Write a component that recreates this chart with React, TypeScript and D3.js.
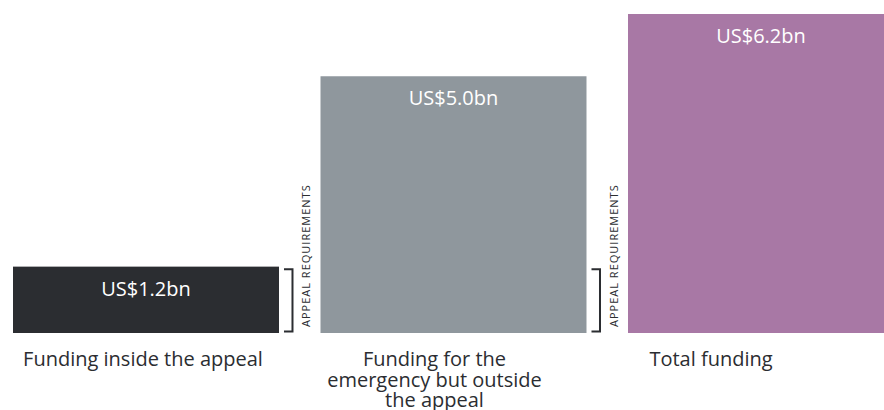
import React from "react";
import * as d3 from "d3";

const categories = ["inside", "outside", "total"];
const categoryLines = [
  ["Funding inside the appeal"],
  ["Funding for the", "emergency but outside", "the appeal"],
  ["Total funding"],
];
const values = [1.29, 4.99, 6.2];
const valueLabels = ["US$1.2bn", "US$5.0bn", "US$6.2bn"];
const barColors = ["#2b2d31", "#8f979d", "#a878a5"];
const appealRequirement = 1.24;
const bracketAfter = ["inside", "outside"];
const bracketLabel = "APPEAL REQUIREMENTS";

// layout
const W = 884;
const H = 410;
const labelDx = [-3, -19, -50];
const FONT = "'Open Sans', sans-serif";
const INK = "#2b2d31";

export default function App() {
  const x = d3
    .scaleBand<string>()
    .domain(categories)
    .range([13, 894])
    .paddingInner(0.135)
    .paddingOuter(0);
  const y = d3.scaleLinear().domain([0, 6.2]).range([333, 14]);
  const bw = x.bandwidth();

  return (
    <svg
      width={W}
      height={H}
      style={{ position: "absolute", left: 0, top: 0, display: "block" }}
      fontFamily={FONT}
    >
      <rect width={W} height={H} fill="#ffffff" />
      {categories.map((c, i) => {
        const x0 = x(c)!;
        return (
          <g key={c}>
            <rect
              x={x0}
              y={y(values[i])}
              width={bw}
              height={y(0) - y(values[i])}
              fill={barColors[i]}
            />
            <text
              x={x0 + bw / 2}
              y={y(values[i]) + 29}
              textAnchor="middle"
              fill="#ffffff"
              fontSize={20}
            >
              {valueLabels[i]}
            </text>
            <text
              x={x0 + bw / 2 + labelDx[i]}
              y={y(0) + 33}
              textAnchor="middle"
              fill={INK}
              fontSize={20}
            >
              {categoryLines[i].map((l, j) => (
                <tspan key={j} x={x0 + bw / 2 + labelDx[i]} dy={j === 0 ? 0 : 20.5}>
                  {l}
                </tspan>
              ))}
            </text>
          </g>
        );
      })}
      {bracketAfter.map((c) => {
        const bx = x(c)! + bw + 13.5;
        const top = y(appealRequirement);
        const bottom = y(0) - 1.5;
        const tx = x(c)! + bw + 31.5;
        return (
          <g key={"b" + c}>
            <path
              d={`M${bx - 8.5},${top}H${bx}V${bottom}H${bx - 8.5}`}
              fill="none"
              stroke={INK}
              strokeWidth={2}
            />
            <text
              transform={`translate(${tx},${y(0) - 6}) rotate(-90)`}
              fill={INK}
              fontSize={11}
              letterSpacing={1}
            >
              {bracketLabel}
            </text>
          </g>
        );
      })}
    </svg>
  );
}
